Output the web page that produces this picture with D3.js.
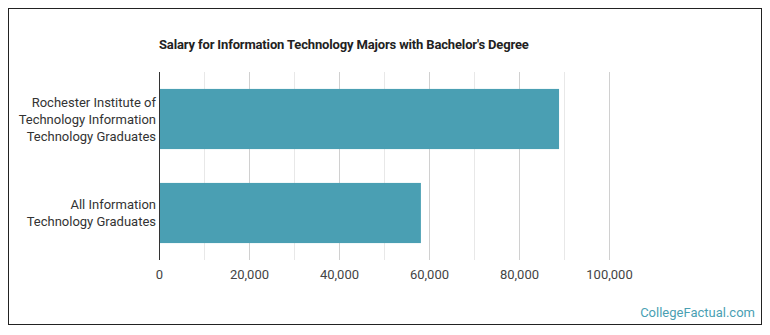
<!DOCTYPE html>
<html>
<head>
<meta charset="utf-8">
<script src="https://cdn.jsdelivr.net/npm/d3@7"></script>
<style>
  body { margin: 0; background: #fff; }
  svg { display: block; font-family: Roboto, sans-serif; }
</style>
</head>
<body>
<svg id="chart"></svg>
<script>
// 分類與數值
const categories = [
  ['Rochester Institute of', 'Technology Information', 'Technology Graduates'],
  ['All Information', 'Technology Graduates']
];
const salaries = [88900, 58200];
const tickValues = [0, 20000, 40000, 60000, 80000, 100000];
const gridValues = d3.range(0, 110000, 10000);

const W = 770, H = 335;
const svg = d3.select('#chart').attr('width', W).attr('height', H);

// 外框
svg.append('rect')
  .attr('x', 8.5).attr('y', 8.5).attr('width', 753).attr('height', 316)
  .attr('fill', '#fff').attr('stroke', '#222').attr('stroke-width', 1);

const x = d3.scaleLinear().domain([0, 100000]).range([159, 609]);
const y = d3.scaleBand().domain(d3.range(categories.length)).range([72, 260])
  .paddingInner(0.36).paddingOuter(0.18);

// 格線
svg.append('g')
  .selectAll('line')
  .data(gridValues.filter(d => d > 0))
  .join('line')
  .attr('x1', d => Math.round(x(d)) + 0.5).attr('x2', d => Math.round(x(d)) + 0.5)
  .attr('y1', 72).attr('y2', 260)
  .attr('stroke', d => d % 20000 === 0 ? '#d0d0d0' : '#e8e8e8')
  .attr('stroke-width', 1);

// 長條
svg.append('g')
  .selectAll('rect')
  .data(salaries)
  .join('rect')
  .attr('x', x(0))
  .attr('y', (d, i) => y(i))
  .attr('width', d => x(d) - x(0))
  .attr('height', y.bandwidth())
  .attr('fill', '#4a9fb3');

// 零軸線
svg.append('line')
  .attr('x1', x(0) + 0.5).attr('x2', x(0) + 0.5)
  .attr('y1', 72).attr('y2', 260)
  .attr('stroke', '#333').attr('stroke-width', 1);

// X 軸刻度文字
const xAxis = d3.axisBottom(x)
  .tickValues(tickValues)
  .tickFormat(d3.format(','))
  .tickSize(0)
  .tickPadding(0);
const gx = svg.append('g').attr('transform', 'translate(0,270)').call(xAxis);
gx.select('.domain').remove();
gx.selectAll('text')
  .attr('font-family', 'Roboto, sans-serif')
  .attr('font-size', '13px')
  .attr('fill', '#444');

// Y 軸類別標籤（多行）
const lineH = 17;
categories.forEach((lines, i) => {
  const cy = y(i) + y.bandwidth() / 2;
  const t = svg.append('text')
    .attr('text-anchor', 'end')
    .attr('font-size', '13px')
    .attr('fill', '#333');
  lines.forEach((ln, li) => {
    t.append('tspan')
      .attr('x', 156)
      .attr('y', cy + (li - (lines.length - 1) / 2) * lineH + 4.5)
      .text(ln);
  });
});

// 標題
svg.append('text')
  .attr('x', 159).attr('y', 49)
  .attr('font-size', '13px')
  .attr('font-weight', 'bold')
  .attr('fill', '#222')
  .attr('letter-spacing', '-0.15px')
  .text("Salary for Information Technology Majors with Bachelor's Degree");

// 來源
svg.append('text')
  .attr('x', 755).attr('y', 317)
  .attr('text-anchor', 'end')
  .attr('font-size', '13px')
  .attr('fill', '#4a9fb3')
  .text('CollegeFactual.com');
</script>
</body>
</html>
